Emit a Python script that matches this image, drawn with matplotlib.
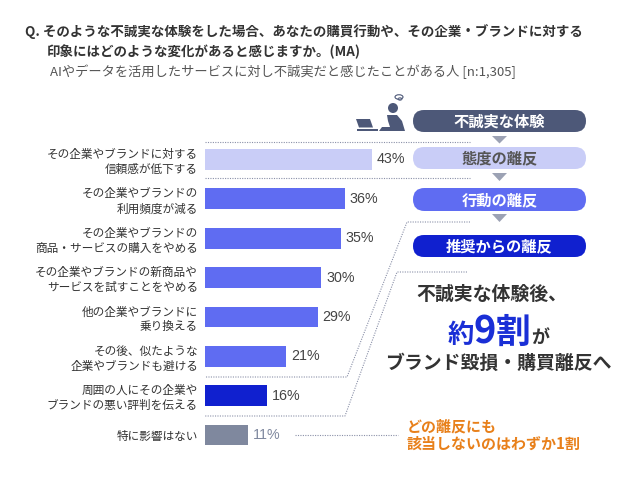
import matplotlib
matplotlib.use("Agg")
import matplotlib.pyplot as plt
from matplotlib.patches import FancyBboxPatch, Polygon, Circle, Ellipse

plt.rcParams['font.family'] = ['Noto Sans CJK JP', 'DejaVu Sans']

# ---- data ----
categories = [
    "その企業やブランドに対する\n信頼感が低下する",
    "その企業やブランドの\n利用頻度が減る",
    "その企業やブランドの\n商品・サービスの購入をやめる",
    "その企業やブランドの新商品や\nサービスを試すことをやめる",
    "他の企業やブランドに\n乗り換える",
    "その後、似たような\n企業やブランドも避ける",
    "周囲の人にその企業や\nブランドの悪い評判を伝える",
    "特に影響はない",
]
values = [43, 36, 35, 30, 29, 21, 16, 11]
groups = ["attitude", "action", "action", "action", "action", "action", "recommend", "none"]
stages = ["不誠実な体験", "態度の離反", "行動の離反", "推奨からの離反"]

title_lines = ["Q. そのような不誠実な体験をした場合、あなたの購買行動や、その企業・ブランドに対する",
               "印象にはどのような変化があると感じますか。(MA)"]
subtitle = "AIやデータを活用したサービスに対し不誠実だと感じたことがある人 [n:1,305]"

# ---- style ----
C_LIGHT = "#c9cdf7"
C_MID = "#5f6cf2"
C_DARK = "#1020cf"
C_GRAY = "#7f889e"
C_SLATE = "#4d5878"
C_TEXT = "#333333"
C_DOT = "#8a90a8"
C_ORANGE = "#e8801a"
group_colors = {"attitude": C_LIGHT, "action": C_MID, "recommend": C_DARK, "none": C_GRAY}

W, H = 628, 495
fig = plt.figure(figsize=(W / 100, H / 100), dpi=100)
fig.patch.set_facecolor("white")

# bar axes (pixel geometry)
top_px, bot_px = 139.8, 454.7
ax = fig.add_axes([205 / W, (H - bot_px) / H, 388 / W, (bot_px - top_px) / H])
ax.set_facecolor("none")
y = list(range(len(values)))
ax.barh(y, values, height=0.53, color=[group_colors[g] for g in groups], zorder=2)
ax.set_xlim(0, 100)
ax.set_ylim(len(values) - 0.5, -0.5)
ax.set_xticks([])
ax.set_yticks(y)
ax.set_yticklabels(categories, fontsize=8.4, color=C_TEXT, linespacing=1.2)
ax.tick_params(axis="y", length=0, pad=5)
for s in ax.spines.values():
    s.set_visible(False)
for i, v in enumerate(values):
    col = C_GRAY if groups[i] == "none" else "#444444"
    ax.text(v + 1.3, i, f"{v}%", va="center", ha="left", fontsize=10.3,
            color=col, family=["Liberation Sans", "DejaVu Sans"])

# overlay axes in pixel coords
ov = fig.add_axes([0, 0, 1, 1])
ov.set_xlim(0, W)
ov.set_ylim(H, 0)
ov.axis("off")
ov.set_zorder(3)

# titles
ov.text(25, 31.5, title_lines[0], fontsize=9.7, fontweight="bold", color=C_TEXT, va="center", ha="left")
ov.text(47, 51.5, title_lines[1], fontsize=9.7, fontweight="bold", color=C_TEXT, va="center", ha="left")
ov.text(50, 71.5, subtitle, fontsize=9.5, color="#555555", va="center", ha="left")

# dotted connectors
dkw = dict(color=C_DOT, lw=0.8, ls=(0, (1, 1.2)))
ov.plot([205, 470], [141.7, 141.7], **dkw)
ov.plot([205, 470], [178, 178], **dkw)
ov.plot([470, 407, 347, 205], [222, 222, 377, 377], **dkw)
ov.plot([467, 397, 345, 205], [272, 272, 416, 416], **dkw)
ov.plot([295, 398], [435, 435], **dkw)

# stage pills
pill_y = [(110, 132), (147, 169), (188, 211), (235, 257)]
pill_fc = [C_SLATE, C_LIGHT, C_MID, C_DARK]
pill_tc = ["white", "#555555", "white", "white"]
for (y0, y1), fc, tc, label in zip(pill_y, pill_fc, pill_tc, stages):
    h = y1 - y0
    ov.add_patch(FancyBboxPatch((413, y0), 173, h,
                                boxstyle=f"round,pad=0,rounding_size={h / 2}",
                                fc=fc, ec="none"))
    ov.text(499.5, (y0 + y1) / 2 + 0.5, label, fontsize=11, fontweight="bold",
            color=tc, ha="center", va="center")

for t0, t1 in [(136, 143.5), (173, 181), (214, 222)]:
    ov.add_patch(Polygon([(492, t0), (507, t0), (499.5, t1)], closed=True, fc="#9ca2b4", ec="none"))

# icon: person at laptop
ov.add_patch(Polygon([(356, 119), (370, 119), (373, 127.5), (359, 127.5)], closed=True, fc=C_SLATE, ec="none"))
ov.add_patch(Polygon([(357, 128.8), (378, 128.8), (378, 131), (357, 131)], closed=True, fc=C_SLATE, ec="none"))
ov.add_patch(Circle((393, 108), 5, fc=C_SLATE, ec="none"))
ov.add_patch(Polygon([(387, 115), (397, 115), (402, 121), (405, 131), (379, 131),
                      (382, 127), (390, 127), (388, 121)], closed=True, fc=C_SLATE, ec="none"))
ov.add_patch(Ellipse((399, 97), 8, 4.5, fc="none", ec=C_SLATE, lw=0.8))
ov.add_patch(Ellipse((400, 99), 4, 2.5, fc="none", ec=C_SLATE, lw=0.6))

# summary text
ov.text(492, 294, "不誠実な体験後、", fontsize=13.6, fontweight="bold", color=C_TEXT, ha="center", va="center")
ov.text(498, 363, "ブランド毀損・購買離反へ", fontsize=13.6, fontweight="bold", color=C_TEXT, ha="center", va="center")

fig.canvas.draw()
renderer = fig.canvas.get_renderer()
parts = [("約", 19, "#1a2fd6"), ("9", 27.5, "#1a2fd6"), ("割", 25, "#1a2fd6"), ("が", 13, C_TEXT)]
objs = []
for s, fs, c in parts:
    objs.append(ov.text(0, 343, s, fontsize=fs, fontweight="bold", color=c, ha="left", va="baseline"))
widths = []
for t in objs:
    bb = t.get_window_extent(renderer)
    widths.append(bb.width)
total = sum(widths)
x = 498 - total / 2
for t, w in zip(objs, widths):
    t.set_x(x)
    x += w

ov.text(407, 426, "どの離反にも", fontsize=10.8, fontweight="bold", color=C_ORANGE, ha="left", va="center")
ov.text(407, 443.5, "該当しないのはわずか1割", fontsize=10.8, fontweight="bold", color=C_ORANGE, ha="left", va="center")

fig.savefig("out.png", dpi=100, facecolor="white")
